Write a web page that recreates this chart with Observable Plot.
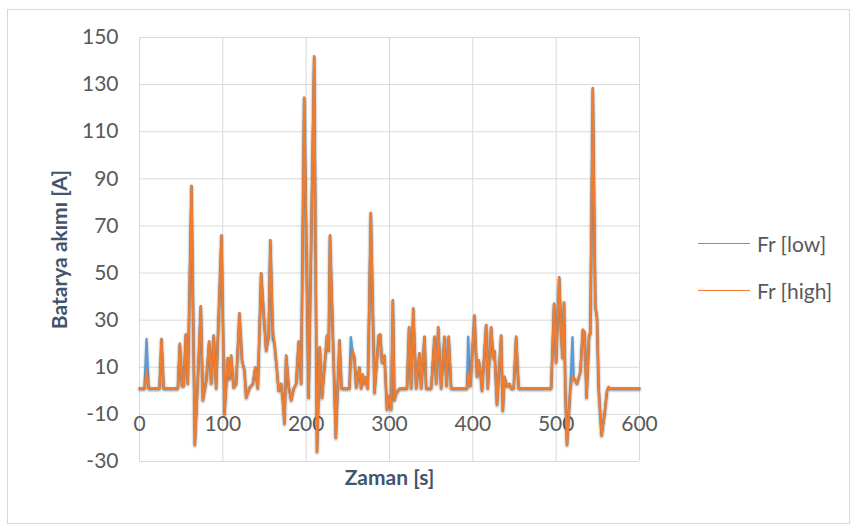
<!DOCTYPE html>
<html>
<head>
<meta charset="utf-8">
<script src="https://cdn.jsdelivr.net/npm/d3@7"></script>
<script src="https://cdn.jsdelivr.net/npm/@observablehq/plot@0.6"></script>
<style>
  html, body { margin: 0; padding: 0; background: #fff; }
  #wrap { position: relative; width: 856px; height: 527px; overflow: hidden; font-family: Lato, "Open Sans", sans-serif; }
  #frame { position: absolute; left: 7px; top: 9px; width: 843px; height: 515px; border: 1px solid #d9d9d9; box-sizing: border-box; }
  #chart { position: absolute; left: 0; top: 0; }
  #chart g[aria-label="line"] { filter: drop-shadow(0.5px 1px 1px rgba(0,0,0,0.28)); }
  .leg { position: absolute; left: 698px; height: 22px; display: flex; align-items: center; font-size: 21px; color: #595959; }
  .leg .sw { width: 52px; height: 0; border-top: 1.5px solid; margin-right: 7px; }
</style>
</head>
<body>
<div id="wrap">
  <div id="frame"></div>
  <div id="chart"></div>
  <div id="legend"></div>
</div>
<script>
// time [s]
const time = [
  0,6,8.5,11,24,26.4,29,46,48.4,51,
  53,55.6,58,62.4,66.4,70,73.6,76,80,83.6,
  86,89,92,98.4,102,106,108,110,113,116,
  120,123,126,128,132,136,139,142,146,149,
  152,155,157,160,162,165,167,170,172,174,
  176,179,182,185,188,191,194,197.6,203,209.6,
  213,216.4,219,222,225,227,228.6,235.6,240,242.5,
  252,253.6,255.6,258,260,264,266,268,270,272,
  274,277.6,282,287,289,291,294,297,300,302,
  304,306,308,312,321,323.5,326,328.5,332,336,
  338,342,344,350,354,356,358.5,362,366,368.5,
  371,374,393,394.4,397,402,405,407,409,411,
  416,418,422,424.4,426,429,434,436,438,441,
  444,446,449,452,455,494,497.5,500,503.6,506,
  507.5,509.5,511,513,517,519.6,521,525,529,532,
  534,536.5,539.6,541,544,547,549,551,554.5,558,
  561,563,565,600
];
// Fr [high] battery current [A]
const frHigh = [
  1,1,8.5,1,1,22,1,1,20,2,
  2,24,3,87,-23,5,36,-4,4,21,
  3,23.5,1,66,-10,14,5,15,1.4,3,
  33,13,8.6,-3,1.4,3,10,1,50,33,
  17,23,64,26,20,8.6,0,3,-4,-14,
  15,2,-4,1,3,21,3,124.5,-3,142,
  -26,18.5,-3,10,23.5,17,66,-20,21.5,1,
  1,12,17,14,1.4,10,1,7,3,5.7,
  1,75.5,-1,23.5,24,12,15,-8,-2,-8,
  38.5,-4,-1,1,1,27,1,35,1,16,
  1,23,1,1,23,3,27,1,23,2,
  23,1,1,8,2,32,6,13,8,0,
  28,1,27,14,17,-6,23.5,-8.5,6,2,
  3,1,1,23,1,1,37,12,48.3,25,
  14,37.5,0,-23,1,6,5.7,3,8,26,
  25,-3,24,24,128.5,36,31,1,-19,-10,
  0,1.6,1,1
];
// Fr [low] battery current [A]
const frLow = [
  1,1,22,1,1,22,1,1,20,2,
  2,24,3,87,-23,5,36,-4,4,21,
  3,23.5,1,66,-10,14,5,15,1.4,3,
  33,13,8.6,-3,1.4,3,10,1,50,33,
  17,23,64,22,20,8.6,0,3,-4,-14,
  15,2,-4,1,3,21,3,124.5,-3,142,
  -26,18.5,-3,10,23.5,17,66,-20,21.5,1,
  1,22.8,17,14,1.4,10,1,7,3,5.7,
  1,75.5,-1,23.5,24,12,15,-8,-2,-8,
  38.5,-4,-1,1,1,27,1,35,1,16,
  1,23,1,1,23,3,27,1,23,2,
  23,1,1,23,2,32,6,13,8,0,
  28,1,27,14,17,-6,23.5,-8.5,6,2,
  3,1,1,23,1,1,37,12,48.3,25,
  14,37.5,0,-23,1,22.8,5.7,3,8,26,
  25,-3,24,24,128.5,36,31,1,-19,-10,
  0,1.6,1,1
];
const xTicks = [0,100,200,300,400,500,600];
const yTicks = [-30,-10,10,30,50,70,90,110,130,150];
const seriesNames = ["Fr [low]", "Fr [high]"];
const seriesColors = ["#5B9BD5", "#ED7D31"];
const xTitle = "Zaman [s]";
const yTitle = "Batarya akımı [A]";

const idx = d3.range(time.length);

const plot = Plot.plot({
  width: 856,
  height: 527,
  marginLeft: 139,
  marginRight: 217,
  marginTop: 37,
  marginBottom: 66,
  style: { fontFamily: "Lato, 'Open Sans', sans-serif", fontSize: "21px", color: "#595959", background: "transparent", overflow: "visible" },
  x: { domain: [0, 600], axis: null },
  y: { domain: [-30, 150], axis: null },
  marks: [
    Plot.gridY(yTicks, { stroke: "#d9d9d9", strokeOpacity: 1, strokeWidth: 1 }),
    Plot.gridX(xTicks, { stroke: "#d9d9d9", strokeOpacity: 1, strokeWidth: 1 }),
    Plot.axisY(yTicks, { anchor: "left", tickSize: 0, tickPadding: 21, fill: "#595959", label: null, fontSize: 21, tickFormat: d => String(d) }),
    Plot.text(xTicks, { x: d => d, y: 0, dy: 33, fill: "#595959", text: d => String(d), fontSize: 21 }),
    Plot.line(idx, { x: i => time[i], y: i => frLow[i], stroke: seriesColors[0], strokeWidth: 2.3, curve: "linear" }),
    Plot.line(idx, { x: i => time[i], y: i => frHigh[i], stroke: seriesColors[1], strokeWidth: 2.3, curve: "linear" }),
    Plot.text([xTitle], { frameAnchor: "bottom", dy: 23, fill: "#44546A", fontWeight: "bold", fontSize: 21 }),
    Plot.text([yTitle], { frameAnchor: "left", textAnchor: "middle", rotate: -90, dx: -79, fill: "#44546A", fontWeight: "bold", fontSize: 21 })
  ]
});
document.getElementById("chart").appendChild(plot);

const legend = document.getElementById("legend");
const legTops = [232, 279];
seriesNames.forEach((name, k) => {
  const row = document.createElement("div");
  row.className = "leg";
  row.style.top = legTops[k] + "px";
  const sw = document.createElement("div");
  sw.className = "sw";
  sw.style.borderTopColor = seriesColors[k];
  const tx = document.createElement("span");
  tx.textContent = name;
  row.appendChild(sw);
  row.appendChild(tx);
  legend.appendChild(row);
});
</script>
</body>
</html>
